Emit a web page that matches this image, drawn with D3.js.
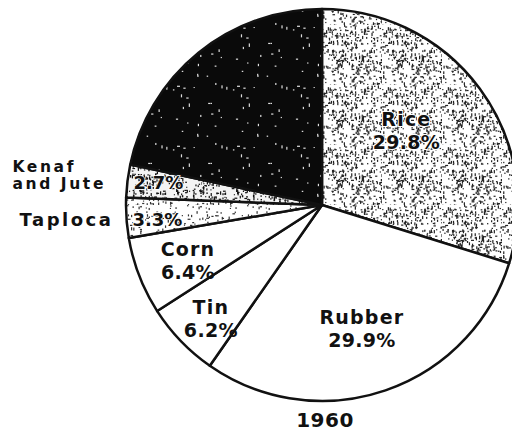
<!DOCTYPE html>
<html>
<head>
<meta charset="utf-8">
<script src="https://cdn.jsdelivr.net/npm/d3@7"></script>
<style>
  html, body { margin: 0; padding: 0; background: #fff; }
  text { font-family: "DejaVu Sans", sans-serif; font-weight: bold; fill: #111; }
</style>
</head>
<body>
<div id="chart"></div>
<script>
// pie data, clockwise from 12 o'clock
const categories = ["Rice", "Rubber", "Tin", "Corn", "Taploca", "Kenaf and Jute", "Other"];
const shares = [29.8, 29.9, 6.2, 6.4, 3.3, 2.7, 21.7];
const shareLabels = ["29.8%", "29.9%", "6.2%", "6.4%", "3.3%", "2.7%", ""];
const yearLabel = "1960";

const width = 512, height = 436;
const cx = 322, cy = 205, radius = 196;

const svg = d3.select("#chart").append("svg")
    .attr("width", width)
    .attr("height", height);

const defs = svg.append("defs");

// stipple textures (fixed seed so it is the same every time)
const makeStipple = (id, bg, fg, count, seed) => {
    const rnd = d3.randomLcg(seed);
    const size = 60;
    const p = defs.append("pattern")
        .attr("id", id)
        .attr("patternUnits", "userSpaceOnUse")
        .attr("width", size)
        .attr("height", size);
    p.append("rect").attr("width", size).attr("height", size).attr("fill", bg);
    for (let i = 0; i < count; i++) {
        const vert = rnd() < 0.6;
        p.append("rect")
            .attr("x", rnd() * size)
            .attr("y", rnd() * size)
            .attr("width", vert ? 1.2 : 1 + rnd() * 2)
            .attr("height", vert ? 1 + rnd() * 2.5 : 1.2)
            .attr("fill", fg);
    }
};
makeStipple("rice", "#fff", "#222", 360, 0.11);
makeStipple("tapioca", "#fff", "#333", 170, 0.37);
makeStipple("kenaf", "#f4f4f4", "#111", 330, 0.53);
makeStipple("dark", "#0a0a0a", "#ddd", 25, 0.79);

const fills = {
    "Rice": "url(#rice)",
    "Rubber": "#fff",
    "Tin": "#fff",
    "Corn": "#fff",
    "Taploca": "url(#tapioca)",
    "Kenaf and Jute": "url(#kenaf)",
    "Other": "url(#dark)"
};

const data = categories.map((c, i) => ({name: c, value: shares[i], label: shareLabels[i]}));

const pie = d3.pie().sort(null).value(d => d.value);
const arc = d3.arc().innerRadius(0).outerRadius(radius);
const arcs = pie(data);

const g = svg.append("g").attr("transform", `translate(${cx},${cy})`);

g.selectAll("path.slice")
    .data(arcs)
    .enter()
    .append("path")
    .attr("class", "slice")
    .attr("d", arc)
    .attr("fill", d => fills[d.data.name])
    .attr("stroke", "#111")
    .attr("stroke-width", 2.5)
    .attr("stroke-linejoin", "round");

// inside labels: name + share, placed on a circle inside the slice
const labelRadius = {"Rice": 0.56, "Rubber": 0.66, "Tin": 0.83, "Corn": 0.75};
const labelShift = {"Rice": [-4, -11], "Rubber": [-2, 0], "Tin": [6, -1], "Corn": [3, 1]};
const inside = arcs.filter(d => labelRadius[d.data.name]);

const lab = g.selectAll("g.lab")
    .data(inside)
    .enter()
    .append("g")
    .attr("class", "lab")
    .attr("transform", d => {
        const r = radius * labelRadius[d.data.name];
        const c = d3.arc().innerRadius(r).outerRadius(r).centroid(d);
        const s = labelShift[d.data.name];
        return `translate(${c[0] + s[0]},${c[1] + s[1]})`;
    });

lab.append("text")
    .attr("text-anchor", "middle")
    .attr("y", -3)
    .style("font-size", "19px")
    .style("letter-spacing", "1.2px")
    .attr("stroke", d => d.data.name === "Rice" ? "#fff" : "none")
    .attr("stroke-width", 2)
    .attr("paint-order", "stroke")
    .text(d => d.data.name);

lab.append("text")
    .attr("text-anchor", "middle")
    .attr("y", 20)
    .style("font-size", "19px")
    .style("letter-spacing", "0.3px")
    .attr("stroke", d => d.data.name === "Rice" ? "#fff" : "none")
    .attr("stroke-width", 2)
    .attr("paint-order", "stroke")
    .text(d => d.data.label);

// thin slices on the left: share just inside the rim
const thin = arcs.filter(d => d.data.name === "Taploca" || d.data.name === "Kenaf and Jute");
thin.forEach(d => {
    const mid = (d.startAngle + d.endAngle) / 2;
    const ex = radius * Math.sin(mid), ey = -radius * Math.cos(mid);
    g.append("text")
        .attr("x", ex + 6)
        .attr("y", ey + 8)
        .style("font-size", "18px")
        .attr("stroke", "#fff")
        .attr("stroke-width", 1.5)
        .attr("paint-order", "stroke")
        .text(d.data.label);
});

// outside names, Kenaf block left aligned, Taploca right aligned
const kenaf = arcs.find(d => d.data.name === "Kenaf and Jute");
const tapioca = arcs.find(d => d.data.name === "Taploca");
const kMid = (kenaf.startAngle + kenaf.endAngle) / 2;
const kx = radius * Math.sin(kMid), ky = -radius * Math.cos(kMid);
const kText = g.append("text")
    .attr("x", kx - 115)
    .attr("y", ky + 8 - 17)
    .style("font-size", "15.5px")
    .style("letter-spacing", "2.6px");
kText.append("tspan").text("Kenaf");
kText.append("tspan").attr("x", kx - 115).attr("dy", 17).text("and Jute");

const tMid = (tapioca.startAngle + tapioca.endAngle) / 2;
const tx = radius * Math.sin(tMid), ty = -radius * Math.cos(tMid);
g.append("text")
    .attr("x", tx - 13)
    .attr("y", ty + 8)
    .attr("text-anchor", "end")
    .style("font-size", "18px")
    .style("letter-spacing", "2.5px")
    .text(tapioca.data.name);

svg.append("text")
    .attr("x", cx + 3)
    .attr("y", 427)
    .attr("text-anchor", "middle")
    .style("font-size", "20px")
    .style("letter-spacing", "0.5px")
    .text(yearLabel);
</script>
</body>
</html>
